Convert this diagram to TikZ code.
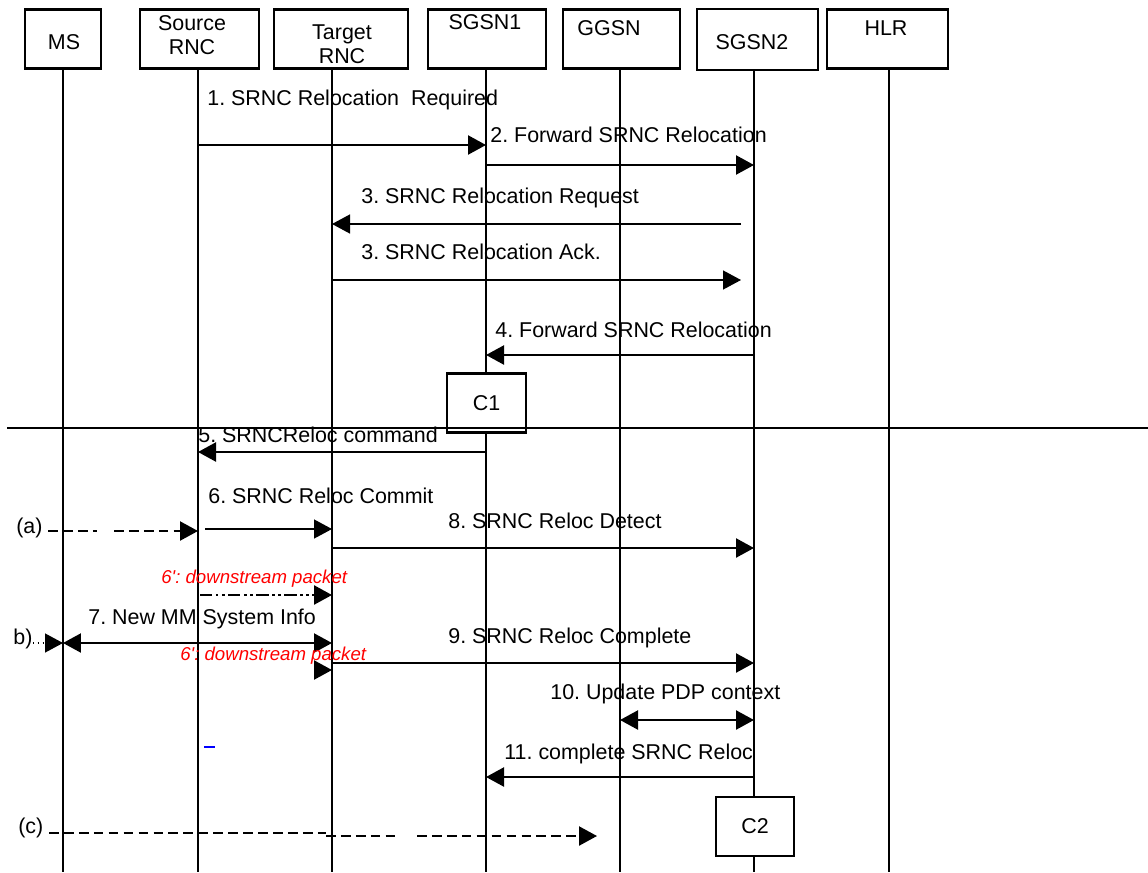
\documentclass[tikz,border=0pt]{standalone}
\usepackage{fontspec}
\setmainfont{Liberation Sans}
\usetikzlibrary{arrows.meta}
\usepackage{xcolor}

\begin{document}
\frenchspacing
\begin{tikzpicture}[x=0.02cm, y=-0.02cm,
  % Node Styles
  ebox/.style={rectangle, draw, line width=1.3pt, fill=white, inner sep=0pt, minimum height=1.18cm},
  etext/.style={font=\fontsize{12.2}{13.6}\selectfont, align=center, inner sep=0pt},
  mtext/.style={font=\fontsize{12.2}{14}\selectfont, anchor=base west, inner sep=0pt},
  rtext/.style={font=\fontsize{10.6}{12}\selectfont\itshape, text=red, anchor=base west, inner sep=0pt},
  % Arrow Styles
  lifeline/.style={line width=1.4pt},
  msg/.style={-{Triangle[length=0.36cm, width=0.38cm]}, line width=1.3pt},
  thinmsg/.style={-{Triangle[length=0.36cm, width=0.38cm]}, line width=0.8pt},
  dblmsg/.style={{Triangle[length=0.36cm, width=0.38cm]}-{Triangle[length=0.36cm, width=0.38cm]}, line width=1.3pt},
  dashmsg/.style={dash pattern=on 5.5pt off 3pt, line width=1.3pt},
  pktmsg/.style={dash pattern=on 7pt off 2pt on 1.5pt off 2pt on 1.5pt off 2pt, line width=1.4pt}
]
\useasboundingbox (0,0) rectangle (1148,872);

% Diagram for: SRNC relocation

\node[ebox, minimum width=1.52cm] (MS) at (63,39) {};
\node[ebox, minimum width=2.38cm] (SRNC) at (199.5,39) {};
\node[ebox, minimum width=2.68cm] (TRNC) at (341,39) {};
\node[ebox, minimum width=2.36cm] (SGSN1) at (487,39) {};
\node[ebox, minimum width=2.34cm] (GGSN) at (621.5,39) {};
\node[ebox, minimum width=2.42cm, minimum height=1.22cm] (SGSN2) at (757.5,39.5) {};
\node[ebox, minimum width=2.42cm] (HLR) at (887.5,39) {};

\node[etext] (MS_t) at (64,42) {MS};
\node[etext] (SRNC_t) at (192,35) {Source\\RNC};
\node[etext] (TRNC_t) at (342,44.5) {Target\\RNC};
\node[etext] (SGSN1_t) at (485,22) {SGSN1};
\node[etext] (GGSN_t) at (609,28) {GGSN};
\node[etext] (SGSN2_t) at (752,42) {SGSN2};
\node[etext] (HLR_t) at (886,28) {HLR};

\coordinate (MS_l) at (63,872);
\coordinate (SRNC_l) at (198,872);
\coordinate (TRNC_l) at (332,872);
\coordinate (SGSN1_l) at (486,872);
\coordinate (GGSN_l) at (620,872);
\coordinate (SGSN2_l) at (754,872);
\coordinate (HLR_l) at (889,872);

\draw[lifeline] (MS_l |- MS.south) -- (MS_l);
\draw[lifeline] (SRNC_l |- SRNC.south) -- (SRNC_l);
\draw[lifeline] (TRNC_l |- TRNC.south) -- (TRNC_l);
\draw[lifeline] (SGSN1_l |- SGSN1.south) -- (SGSN1_l);
\draw[lifeline] (GGSN_l |- GGSN.south) -- (GGSN_l);
\draw[lifeline] (SGSN2_l |- SGSN2.south) -- (SGSN2_l);
\draw[lifeline] (HLR_l |- HLR.south) -- (HLR_l);

% message rows
\coordinate (r1) at (0,145);
\coordinate (r2) at (0,165);
\coordinate (r3) at (741,224);
\coordinate (r3b) at (741,280);
\coordinate (r4) at (0,355);
\coordinate (r5) at (0,452);
\coordinate (r6) at (205,529);
\coordinate (r8) at (0,548);
\coordinate (r6p) at (200,595);
\coordinate (r7) at (0,643);
\coordinate (r9) at (0,663);
\coordinate (r6q) at (314,670);
\coordinate (r10) at (0,720);
\coordinate (r11) at (0,777);

\node[mtext] (L1) at (207,105) {1. SRNC Relocation \ Required};
\draw[msg] (SRNC_l |- r1) -- (SGSN1_l |- r1);
\node[mtext] (L2) at (490,142) {2. Forward SRNC Relocation};
\draw[msg] (SGSN1_l |- r2) -- (SGSN2_l |- r2);
\node[mtext] (L3) at (361,203) {3. SRNC Relocation Request};
\draw[thinmsg] (r3) -- (TRNC_l |- r3);
\node[mtext] (L3b) at (361,259) {3. SRNC Relocation Ack.};
\draw[thinmsg] (TRNC_l |- r3b) -- (r3b);
\node[mtext] (L4) at (495,337) {4. Forward SRNC Relocation};
\draw[msg] (SGSN2_l |- r4) -- (SGSN1_l |- r4);

\node[ebox, minimum width=1.58cm, font=\fontsize{12.2}{14}\selectfont] (C1) at (486.5,403) {C1};
\coordinate (divL) at (7,428);
\coordinate (divR) at (1148,428);
\draw[line width=1.3pt] (divL) -- (divR);

\node[mtext] (L5) at (198,442) {5. SRNCReloc command};
\draw[msg] (SGSN1_l |- r5) -- (SRNC_l |- r5);
\node[mtext] (L6) at (208,503) {6. SRNC Reloc Commit};
\draw[thinmsg] (r6) -- (TRNC_l |- r6);
\node[mtext] (La) at (16,533) {(a)};
\coordinate (a1) at (48,531);
\coordinate (a2) at (97,531);
\coordinate (a3) at (114,531);
\draw[dashmsg] (a1) -- (a2);
\draw[dashmsg, -{Triangle[length=0.36cm, width=0.38cm]}] (a3) -- (SRNC_l |- a3);
\node[mtext] (L8) at (448,528) {8. SRNC Reloc Detect};
\draw[msg] (TRNC_l |- r8) -- (SGSN2_l |- r8);
\node[rtext] (L6p) at (161,583) {6\textquotesingle: downstream packet};
\draw[pktmsg, -{Triangle[length=0.36cm, width=0.38cm]}] (r6p) -- (TRNC_l |- r6p);
\node[mtext] (L7) at (88,624) {7. New MM System Info};
\node[mtext] (Lb) at (13,644) {b)};
\draw[dotted, line width=0.8pt, -{Triangle[length=0.36cm, width=0.38cm]}] (Lb.east |- r7) -- (MS_l |- r7);
\draw[dblmsg] (MS_l |- r7) -- (TRNC_l |- r7);
\node[mtext] (L9) at (448,643) {9. SRNC Reloc Complete};
\node[rtext] (L6q) at (180,660) {6\textquotesingle: downstream packet};
\draw[msg] (TRNC_l |- r9) -- (SGSN2_l |- r9);
\draw[msg] (r6q) -- (TRNC_l |- r6q);
\node[mtext] (L10) at (550,699) {10. Update PDP context};
\draw[dblmsg] (GGSN_l |- r10) -- (SGSN2_l |- r10);
\coordinate (bm1) at (204,747);
\coordinate (bm2) at (215,747);
\draw[blue, line width=0.6pt] (bm1) -- (bm2);
\node[mtext] (L11) at (504,759) {11. complete SRNC Reloc};
\draw[msg] (SGSN2_l |- r11) -- (SGSN1_l |- r11);

\node[ebox, minimum width=1.56cm, font=\fontsize{12.2}{14}\selectfont] (C2) at (755,826.5) {C2};
\node[mtext] (Lc) at (18,833) {(c)};
\coordinate (c1) at (49,833);
\coordinate (c2) at (326,833);
\coordinate (c3) at (326,836);
\coordinate (c4) at (399,836);
\coordinate (c5) at (417,836);
\coordinate (c6) at (597,836);
\draw[dashmsg] (c1) -- (c2);
\draw[dashmsg] (c3) -- (c4);
\draw[dashmsg, -{Triangle[length=0.36cm, width=0.38cm]}] (c5) -- (c6);

\end{tikzpicture}
\end{document}
